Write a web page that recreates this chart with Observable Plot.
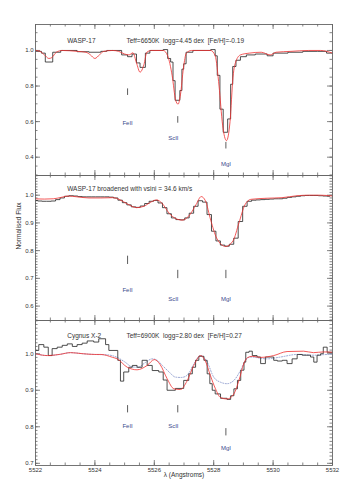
<!DOCTYPE html>
<html><head><meta charset="utf-8">
<script src="https://cdn.jsdelivr.net/npm/d3@7"></script>
<script src="https://cdn.jsdelivr.net/npm/@observablehq/plot@0.6"></script>
<style>
body{margin:0;background:#fff;}
#chart{width:350px;height:500px;overflow:hidden;}
#chart svg{display:block;overflow:visible;}
</style></head><body><div id="chart"></div>
<script>
// ---------- Panel 1: WASP-17 ----------
const obs1Wave = [5522.00,5522.20,5522.33,5522.58,5522.85,5523.40,5523.80,5524.20,5524.40,5524.90,5525.10,5525.25,5525.40,5525.52,5525.70,5525.85,5526.30,5526.45,5526.55,5526.63,5526.70,5526.86,5526.93,5526.99,5527.07,5527.30,5527.90,5528.05,5528.12,5528.21,5528.32,5528.47,5528.57,5528.64,5528.75,5528.90,5529.10,5529.40,5529.80,5530.00,5530.50,5531.00,5531.50,5531.80,5532.00];
const obs1Flux = [0.995,0.985,0.935,0.99,1.0,0.993,0.99,0.995,1.0,0.975,0.965,0.98,0.93,0.905,0.985,1.0,1.005,0.955,0.935,0.83,0.72,0.775,0.895,0.925,0.99,1.0,1.005,0.97,0.86,0.67,0.54,0.615,0.81,0.91,0.945,0.965,0.975,0.98,0.97,0.985,0.99,0.995,0.995,0.985,0.985];
const mod1Wave = [5522.00,5522.15,5522.30,5522.45,5522.55,5522.70,5522.90,5523.40,5523.70,5523.85,5524.00,5524.15,5524.30,5524.60,5524.80,5525.00,5525.15,5525.28,5525.40,5525.52,5525.65,5525.75,5525.90,5526.30,5526.45,5526.60,5526.72,5526.80,5526.88,5526.98,5527.08,5527.25,5527.90,5528.05,5528.18,5528.30,5528.43,5528.55,5528.65,5528.75,5528.90,5529.20,5529.60,5529.90,5530.10,5530.60,5531.20,5531.60,5532.00];
const mod1Flux = [1.0,0.995,0.975,0.955,0.96,0.99,1.0,0.995,0.99,0.975,0.955,0.975,0.995,1.0,0.995,0.98,0.975,0.987,0.93,0.878,0.92,0.99,1.0,1.0,0.97,0.86,0.72,0.698,0.75,0.9,0.985,1.0,1.0,0.97,0.8,0.58,0.493,0.6,0.85,0.94,0.975,0.985,0.99,0.975,0.99,0.995,1.0,1.0,0.985];

// ---------- Panel 2: WASP-17 broadened ----------
const obs2Wave = d3.range(67).map(i => +(5522 + 0.15 * i).toFixed(2));
const obs2Flux = [0.981,0.979,0.978,0.978,0.979,0.984,0.99,0.996,0.998,0.997,0.995,0.994,0.994,0.994,0.994,0.994,0.994,0.993,0.99,0.982,0.973,0.965,0.958,0.956,0.961,0.970,0.978,0.981,0.972,0.955,0.933,0.918,0.912,0.911,0.918,0.935,0.960,0.980,0.975,0.93,0.87,0.835,0.82,0.816,0.823,0.845,0.905,0.96,0.978,0.982,0.983,0.984,0.985,0.986,0.987,0.987,0.989,0.992,0.994,0.996,0.998,0.999,0.999,0.999,0.998,0.997,0.996];
const mod2Wave = [5522.0,5522.3,5522.6,5522.9,5523.1,5523.4,5523.8,5524.2,5524.6,5524.85,5525.1,5525.4,5525.65,5525.9,5526.08,5526.25,5526.5,5526.75,5526.95,5527.2,5527.4,5527.58,5527.72,5527.9,5528.1,5528.4,5528.65,5528.85,5529.05,5529.25,5529.8,5530.3,5530.8,5531.2,5531.6,5532.0];
const mod2Flux = [0.987,0.986,0.987,0.993,0.997,0.994,0.99,0.99,0.991,0.983,0.968,0.955,0.96,0.976,0.983,0.972,0.935,0.914,0.91,0.93,0.965,0.995,0.98,0.91,0.845,0.815,0.835,0.9,0.965,0.985,0.989,0.991,0.998,1.0,1.0,0.997];

// ---------- Panel 3: Cygnus X-2 ----------
const obs3Wave = [5522.00,5522.11,5522.28,5522.43,5522.56,5522.73,5522.90,5523.07,5523.24,5523.40,5523.57,5523.74,5523.96,5524.13,5524.36,5524.47,5524.77,5524.86,5524.97,5525.14,5525.26,5525.42,5525.59,5525.76,5525.93,5526.15,5526.30,5526.43,5526.71,5526.99,5527.16,5527.28,5527.39,5527.50,5527.67,5527.78,5527.87,5527.95,5528.05,5528.23,5528.45,5528.57,5528.68,5528.80,5528.91,5529.02,5529.08,5529.19,5529.30,5529.46,5529.58,5529.74,5530.02,5530.14,5530.31,5530.47,5530.64,5530.81,5530.98,5531.26,5531.37,5531.48,5531.60,5531.69,5531.82,5532.00];
const obs3Flux = [1.009,1.025,1.018,0.995,1.014,1.018,1.023,1.027,1.02,1.025,1.029,1.035,1.032,1.041,1.025,1.009,0.982,0.925,0.95,0.963,0.968,0.963,0.982,0.968,0.954,0.95,0.928,0.9,0.905,0.927,0.945,0.963,0.982,0.993,0.982,0.945,0.918,0.9,0.89,0.878,0.875,0.885,0.904,0.927,0.955,0.977,1.004,1.007,0.995,0.991,0.973,0.991,0.982,0.98,0.982,0.973,0.986,0.998,0.996,0.991,0.977,0.996,1.0,1.018,1.004,1.004];
const mod3Wave = [5522.0,5522.4,5522.8,5523.18,5523.6,5524.0,5524.2,5524.6,5524.75,5525.09,5525.42,5525.76,5526.0,5526.2,5526.43,5526.66,5526.88,5527.1,5527.33,5527.56,5527.72,5527.89,5528.06,5528.23,5528.45,5528.68,5528.85,5529.01,5529.13,5529.3,5529.58,5530.02,5530.47,5531.03,5531.36,5531.7,5532.0];
const mod3Flux = [1.0,0.995,0.998,1.003,1.0,0.998,0.998,0.99,0.986,0.963,0.956,0.968,0.984,0.97,0.932,0.904,0.902,0.925,0.968,0.995,0.98,0.94,0.904,0.88,0.876,0.89,0.927,0.972,0.989,0.993,0.99,0.995,1.006,1.007,1.003,1.005,1.004];
const alt3Wave = [5522.0,5522.4,5522.8,5523.18,5523.6,5524.0,5524.41,5524.75,5525.0,5525.26,5525.45,5525.7,5525.93,5526.1,5526.27,5526.5,5526.71,5526.9,5527.05,5527.2,5527.33,5527.56,5527.78,5528.0,5528.23,5528.45,5528.68,5528.9,5529.07,5529.24,5529.8,5530.25,5530.81,5531.37,5531.8,5532.0];
const alt3Flux = [1.0,0.995,0.998,1.003,1.0,0.998,0.997,0.99,0.978,0.964,0.963,0.976,0.986,0.982,0.968,0.95,0.936,0.935,0.938,0.952,0.972,0.995,0.977,0.936,0.922,0.918,0.927,0.954,0.982,0.991,0.986,0.991,0.998,0.996,0.998,0.999];

// ---------- line identifications ----------
const idNames = ["FeII", "ScII", "MgI"];
const idWave = [5525.10, 5526.79, 5528.41];
const idTop1 = [0.784, 0.628, 0.483], idLab1 = [0.593, 0.506, 0.362];
const idTop2 = [0.780, 0.729, 0.729], idLab2 = [0.657, 0.627, 0.627];
const idTop3 = [0.858, 0.858, 0.795], idLab3 = [0.801, 0.801, 0.741];

// ---------- text ----------
const titles1 = ["WASP-17", "Teff=6650K  logg=4.45 dex  [Fe/H]=-0.19"];
const titles2 = ["WASP-17 broadened with vsini = 34.6 km/s"];
const titles3 = ["Cygnus X-2", "Teff=6900K  logg=2.80 dex  [Fe/H]=0.27"];
const xTickLabels = [5522, 5524, 5526, 5528, 5530, 5532];
const yLabel = "Normalised Flux";
const xLabel = "λ (Angstroms)";

// ---------- drawing ----------
const FONT = "'Liberation Sans', Arial, sans-serif";
const AX = "#666", TXT = "#333", RED = "#f03030", OBS = "#222", IDC = "#3a4a8c";
const toRows = (w, f) => w.map((x, i) => ({x, y: f[i]}));
const r2 = v => Math.round(v * 1000) / 1000;

function makePanel(c) {
  const W = 350, ml = 35, mr = 18;
  const fw = W - ml - mr, fh = c.height - c.mt - c.mb;
  const xMinor = d3.range(5522, 5532.01, 0.5).map(r2);
  const yMinor = d3.range(Math.ceil(c.yDomain[0] / c.yMinorStep - 1e-9), Math.floor(c.yDomain[1] / c.yMinorStep + 1e-9) + 1).map(k => r2(k * c.yMinorStep));
  const st = {stroke: AX, strokeWidth: 0.8};
  const marks = [
    Plot.tickX(xMinor, {x: d => d, insetTop: fh - 2.5, ...st}),
    Plot.tickX(xMinor, {x: d => d, insetBottom: fh - 2.5, ...st}),
    Plot.tickX(xTickLabels, {x: d => d, insetTop: fh - 5, ...st}),
    Plot.tickX(xTickLabels, {x: d => d, insetBottom: fh - 5, ...st}),
    Plot.tickY(yMinor, {y: d => d, insetRight: fw - 2.5, ...st}),
    Plot.tickY(yMinor, {y: d => d, insetLeft: fw - 2.5, ...st}),
    Plot.tickY(c.yMajor, {y: d => d, insetRight: fw - 5, ...st}),
    Plot.tickY(c.yMajor, {y: d => d, insetLeft: fw - 5, ...st}),
    Plot.axisY({ticks: c.yMajor, label: null, tickSize: 0, tickPadding: 2, tickFormat: d => d.toFixed(1), fontSize: 6, fill: TXT}),
    ...c.lines,
    Plot.ruleX(idNames.map((n, i) => i), {x: i => idWave[i], y1: i => c.idTop[i], y2: i => c.idTop[i] - c.idLen, stroke: "#333", strokeWidth: 0.8}),
    Plot.text(idNames.map((n, i) => i), {x: i => idWave[i] + (i === 1 ? -0.15 : 0), y: i => c.idLab[i], text: i => idNames[i], fill: IDC, fontSize: 6}),
    ...c.titles.map((t, i) => Plot.text([t], {frameAnchor: "top-left", dx: i === 0 ? 31.7 : 91, dy: c.titleDy, textAnchor: "start", fontSize: 6.5, fill: TXT})),
    Plot.frame({stroke: AX, strokeWidth: 0.9}),
    ...(c.extra || [])
  ];
  return Plot.plot({
    width: W, height: c.height,
    marginLeft: ml, marginRight: mr, marginTop: c.mt, marginBottom: c.mb,
    x: {domain: [5522, 5532], axis: null, label: null},
    y: {domain: c.yDomain, label: null},
    style: {fontFamily: FONT, fontSize: "6px", background: "#fff", overflow: "visible"},
    marks
  });
}

const p1 = makePanel({
  height: 175, mt: 24, mb: 0, yDomain: [0.297, 1.146], yMajor: [0.4, 0.6, 0.8, 1.0], yMinorStep: 0.05,
  idTop: idTop1, idLab: idLab1, idLen: 0.037, titles: titles1, titleDy: 14.3,
  lines: [
    Plot.line(toRows(obs1Wave, obs1Flux), {x: "x", y: "y", curve: "step-after", stroke: OBS, strokeWidth: 0.8}),
    Plot.line(toRows(mod1Wave, mod1Flux), {x: "x", y: "y", curve: "monotone-x", stroke: RED, strokeWidth: 0.8})
  ]
});
const p2 = makePanel({
  height: 145, mt: 0, mb: 0, yDomain: [0.548, 1.071], yMajor: [0.6, 0.7, 0.8, 0.9, 1.0], yMinorStep: 0.01,
  idTop: idTop2, idLab: idLab2, idLen: 0.03, titles: titles2, titleDy: 11,
  lines: [
    Plot.line(toRows(obs2Wave, obs2Flux), {x: "x", y: "y", curve: "step", stroke: OBS, strokeWidth: 0.8}),
    Plot.line(toRows(mod2Wave, mod2Flux), {x: "x", y: "y", curve: "monotone-x", stroke: RED, strokeWidth: 0.8})
  ],
  extra: [Plot.text([yLabel], {frameAnchor: "left", rotate: -90, dx: -17, dy: 1.5, fontSize: 6.5, fill: TXT})]
});
const p3 = makePanel({
  height: 180, mt: 0, mb: 35, yDomain: [0.694, 1.091], yMajor: [0.7, 0.8, 0.9, 1.0], yMinorStep: 0.01,
  idTop: idTop3, idLab: idLab3, idLen: 0.02, titles: titles3, titleDy: 13.3,
  lines: [
    Plot.line(toRows(alt3Wave, alt3Flux), {x: "x", y: "y", curve: "monotone-x", stroke: "#8a98cc", strokeWidth: 0.9, strokeDasharray: "1,1.6"}),
    Plot.line(toRows(obs3Wave, obs3Flux), {x: "x", y: "y", curve: "step-after", stroke: OBS, strokeWidth: 0.8}),
    Plot.line(toRows(mod3Wave, mod3Flux), {x: "x", y: "y", curve: "monotone-x", stroke: RED, strokeWidth: 0.8})
  ],
  extra: [
    Plot.axisX({ticks: xTickLabels, label: null, tickSize: 0, tickPadding: 2, tickFormat: d => String(d), fontSize: 6, fill: TXT}),
    Plot.text([xLabel], {frameAnchor: "bottom", dy: 11, fontSize: 6.5, fill: TXT})
  ]
});
const el = document.getElementById("chart");
el.append(p1, p2, p3);
</script>
</body></html>
